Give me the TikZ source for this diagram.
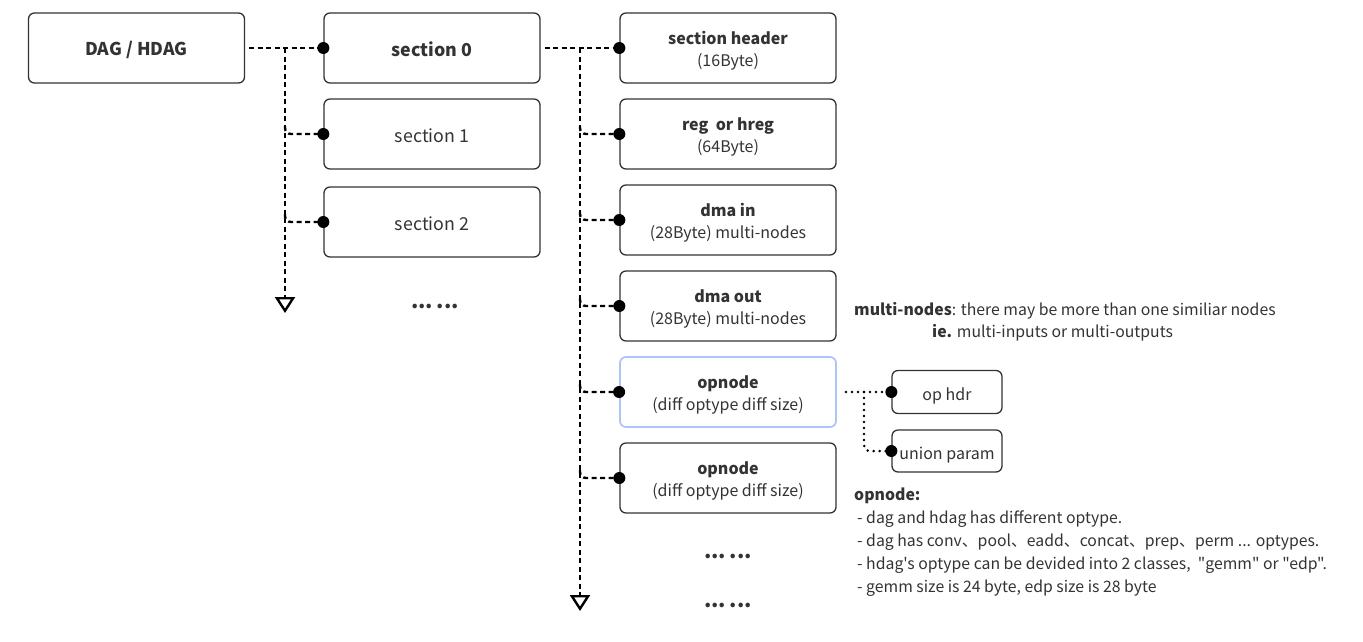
\documentclass[tikz,border=0pt]{standalone}
\usepackage{fontspec}
\setmainfont{Noto Sans CJK SC}
\newfontfamily\nf{Noto Sans CJK SC}
\usetikzlibrary{arrows.meta,calc}
\definecolor{tc}{HTML}{333333}
\definecolor{bc}{HTML}{333333}
\definecolor{blu}{HTML}{ADC6F7}
\tikzset{
  box/.style={draw=bc, line width=1.3pt, rounded corners=6pt, minimum width=216pt, minimum height=70pt,
    align=center, inner sep=0pt, font=\nf\fontsize{16}{22}\selectfont, text=tc},
  twoline/.style={text height=37pt, text depth=0pt},
  bigline/.style={font=\nf\fontsize{17.8}{22}\selectfont, text height=17pt, text depth=0pt},
  sbox/.style={box, minimum width=110pt, minimum height=43pt, text height=16pt, text depth=0pt},
  conn/.style={draw=black, line width=2.4pt, dash pattern=on 5pt off 3.5pt},
  dotc/.style={draw=black, line width=2.8pt, line cap=round, dash pattern=on 0pt off 6pt},
  tip/.style={-{Triangle[open, width=20pt, length=16pt, line width=2.4pt]}},
  dotend/.style={fill=black},
  note/.style={anchor=base west, inner sep=0pt, font=\nf\fontsize{15.8}{23}\selectfont, text=tc},
  ell/.style={anchor=base, inner sep=0pt, font=\nf\bfseries\fontsize{21}{24}\selectfont, text=tc}
}
\begin{document}
\begin{tikzpicture}[x=1pt, y=-1pt]
\useasboundingbox (0,0) rectangle (1363,641);
% left column
\node[box, font=\nf\fontsize{17.6}{22}\selectfont, text height=14pt, text depth=0pt] (dag) at (136.5,48) {\textbf{DAG / HDAG}};
\node[box, bigline] (s0) at (432,48) {\textbf{section 0}};
\node[box, bigline] (s1) at (432,134) {section 1};
\node[box, bigline] (s2) at (432,222) {section 2};
\node[ell] (e0) at (435,308) {...\,...};
% right column
\node[box, twoline] (sh) at (728,48) {\textbf{section header}\\(16Byte)};
\node[box, twoline] (rg) at (728,134) {\textbf{reg\ \ or hreg}\\(64Byte)};
\node[box, twoline] (di) at (728,220) {\textbf{dma in}\\(28Byte) multi-nodes};
\node[box, twoline] (do) at (728,306) {\textbf{dma out}\\(28Byte) multi-nodes};
\node[box, twoline, draw=blu, line width=1.8pt] (op1) at (728,392) {\textbf{opnode}\\(diff optype diff size)};
\node[box, twoline] (op2) at (728,478) {\textbf{opnode}\\(diff optype diff size)};
\node[ell] (e1) at (728,558) {...\,...};
\node[ell] (e2) at (728,607) {...\,...};
% sub boxes
\node[sbox] (oh) at (947,392) {op hdr};
\node[sbox, minimum height=42pt] (up) at (947,451) {union param};
% notes
\node[note] (n1) at (854,315) {\textbf{multi-nodes}: there may be more than one similiar nodes};
\node[note] (n2) at (932,337) {\textbf{ie.} multi-inputs or multi-outputs};
\node[note] (n3) at (854,500) {\textbf{opnode:}};
\node[note] (n4) at (857,523) {- dag and hdag has different optype.};
\node[note] (n5) at (857,546) {- dag has conv、pool、eadd、concat、prep、perm ... optypes.};
\node[note] (n6) at (857,569) {- hdag's optype can be devided into 2 classes,\ \ "gemm" or "edp".};
\node[note] (n7) at (857,592) {- gemm size is 24 byte, edp size is 28 byte};
% coordinates
\coordinate (lt) at (285,48);
\coordinate (lb) at (285,313);
\coordinate (rt) at (580,48);
\coordinate (rb) at (580,611);
\coordinate (ot) at ($(op1.east)+(9,0)$);
\coordinate (oj) at (864,392);
% left connectors
\draw[conn] ($(dag.east)+(4,0)$) -- (s0.west);
\draw[conn, tip] (lt) -- (lb);
\draw[conn, rounded corners=6pt] ($(lt|-s1.west)+(0,-8)$) |- (s1.west);
\draw[conn, rounded corners=6pt] ($(lt|-s2.west)+(0,-8)$) |- (s2.west);
% right connectors
\draw[conn] ($(s0.east)+(4,0)$) -- (sh.west);
\draw[conn, tip] (rt) -- (rb);
\foreach \n in {rg,di,do,op1,op2}{
  \draw[conn, rounded corners=6pt] ($(rt|-\n.west)+(0,-8)$) |- (\n.west);
}
% dotted connectors
\draw[dotc] (ot) -- (oh.west);
\draw[dotc, rounded corners=6pt] (oj) |- (up.west);
% end dots
\foreach \n in {s0,s1,s2,sh,rg,di,do,op1,op2,oh,up}{
  \fill[dotend] (\n.west) circle (6pt);
}
\end{tikzpicture}
\end{document}
